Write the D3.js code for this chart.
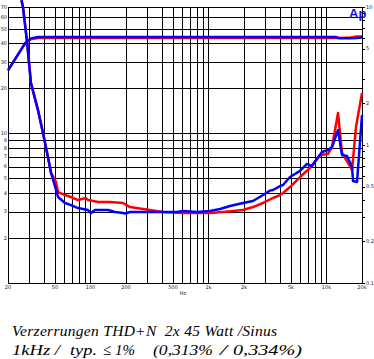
<!DOCTYPE html>
<html>
<head>
<meta charset="utf-8">
<script src="https://cdn.jsdelivr.net/npm/d3@7"></script>
<style>
  body { margin: 0; background: #fff; }
  svg { display: block; }
  .tick-label { font-family: "DejaVu Sans", sans-serif; font-size: 5px; fill: #222; }
  .caption { font-family: "Liberation Serif", serif; font-style: italic; font-size: 15.5px; fill: #000; white-space: pre; }
</style>
</head>
<body>
<div id="chart"></div>
<script>
// THD+N curves (right axis, %)
const thdFreqRed = [26, 26.8, 29, 31.3, 35.9, 39.6, 43.6, 46.3, 51, 53.1, 60.8, 68.4, 78.4, 91.6, 95.2, 116, 146, 189, 216, 279, 412, 608, 697, 1030, 1328, 1962, 2382, 2898, 3522, 4036, 4281, 4909, 5968, 7248, 8811, 10300, 11140, 12530, 13540, 15220, 16460, 17790, 20000];
const thdRed = [11.2, 10, 5.58, 2.81, 1.79, 1.22, 0.818, 0.627, 0.54, 0.456, 0.434, 0.42, 0.399, 0.413, 0.399, 0.386, 0.386, 0.38, 0.355, 0.344, 0.327, 0.321, 0.321, 0.321, 0.327, 0.338, 0.355, 0.38, 0.413, 0.434, 0.449, 0.496, 0.586, 0.681, 0.846, 0.861, 0.967, 1.706, 0.875, 0.741, 0.659, 1.35, 2.38];

const thdFreqBlue = [26, 26.8, 29, 31.3, 35.9, 39.6, 43.6, 46.3, 50, 53.1, 60.8, 68.4, 78.4, 95.2, 101, 109, 141, 161, 189, 196, 216, 279, 541, 608, 799, 1030, 1253, 1522, 1962, 2382, 2898, 3320, 3522, 4036, 4281, 4909, 5968, 6836, 7537, 9162, 10300, 11140, 12530, 13540, 14930, 16460, 16790, 18150, 20000];
const thdBlue = [11.2, 10, 5.58, 2.81, 1.79, 1.22, 0.818, 0.627, 0.504, 0.42, 0.38, 0.367, 0.349, 0.338, 0.321, 0.338, 0.338, 0.327, 0.321, 0.318, 0.327, 0.327, 0.327, 0.333, 0.327, 0.333, 0.344, 0.361, 0.38, 0.393, 0.434, 0.467, 0.472, 0.504, 0.513, 0.586, 0.65, 0.729, 0.704, 0.89, 0.92, 0.967, 1.284, 0.846, 0.832, 0.693, 0.548, 0.54, 1.65];

// output power curves (left axis, W)
const powFreqRed = [20, 27.9, 29, 31.3, 35.9, 100, 1000, 10000, 12500, 16000, 18000, 20000];
const powRed = [26.4, 40, 41.2, 42.6, 43.4, 43.4, 43.4, 43.4, 43.4, 43.8, 44.5, 44.5];
const powFreqBlue = [20, 27.9, 29, 31.3, 35.9, 100, 1000, 10000, 12000, 13000, 16000, 18000, 20000];
const powBlue = [26.4, 40, 41.2, 43.2, 44.1, 44.1, 44.1, 44.1, 44.1, 43.2, 43.2, 43.5, 43.7];

// axes / grid
const xGrid = [30, 40, 50, 60, 70, 80, 90, 100, 200, 300, 400, 500, 600, 700, 800, 900, 1000, 2000, 3000, 4000, 5000, 6000, 7000, 8000, 9000, 10000];
const xTicks = [20, 50, 100, 200, 500, 1000, 2000, 5000, 10000, 20000];
const xTickLabels = ["20", "50", "100", "200", "500", "1k", "2k", "5k", "10k", "20k"];
const leftGrid = [2, 3, 4, 5, 6, 7, 8, 9, 10, 20, 30, 40, 50, 60];
const leftTicks = [2, 3, 4, 5, 6, 7, 8, 9, 10, 20, 30, 40, 50, 60, 70];
const rightTicks = [0.2, 0.3, 0.4, 0.5, 0.6, 0.7, 0.8, 0.9, 1, 2, 3, 4, 5, 6, 7, 8, 9];
const rightLabels = [0.1, 0.2, 0.5, 1, 2, 5, 10];
const captionLine1 = "Verzerrungen THD+N  2x 45 Watt /Sinus";
const captionLine2 = ["1kHz /", "typ.", "\u2264 1%", "(0,313%", "/", "0,334%)"];

const W = 374, H = 359;
const pLeft = 8, pRight = 362, pTop = 7, pBottom = 283;

const svg = d3.select("#chart").append("svg")
    .attr("width", W)
    .attr("height", H);

const x = d3.scaleLog().domain([20, 20000]).range([pLeft, pRight]);
const yL = d3.scaleLog().domain([1, 70]).range([pBottom, pTop]);
const yR = d3.scaleLog().domain([0.1, 10]).range([pBottom, pTop]);

//----------------------------GRID----------------------------//
const grid = svg.append("g")
    .attr("stroke", "#000")
    .attr("stroke-width", 1)
    .attr("shape-rendering", "crispEdges");

grid.selectAll(".vx").data(xGrid).enter().append("line")
    .attr("x1", d => Math.round(x(d)) + 0.5).attr("x2", d => Math.round(x(d)) + 0.5)
    .attr("y1", pTop).attr("y2", pBottom);

grid.selectAll(".hy").data(leftGrid).enter().append("line")
    .attr("x1", pLeft).attr("x2", pRight)
    .attr("y1", d => Math.round(yL(d)) + 0.5).attr("y2", d => Math.round(yL(d)) + 0.5);

grid.append("rect")
    .attr("x", pLeft + 0.5).attr("y", pTop + 0.5)
    .attr("width", pRight - pLeft).attr("height", pBottom - pTop)
    .attr("fill", "none");

// right axis small ticks
grid.selectAll(".rt").data(rightTicks.concat(rightLabels)).enter().append("line")
    .attr("x1", pRight).attr("x2", pRight + 3)
    .attr("y1", d => Math.round(yR(d)) + 0.5).attr("y2", d => Math.round(yR(d)) + 0.5);

//----------------------------LABELS----------------------------//
svg.selectAll(".ll").data(leftTicks).enter().append("text")
    .attr("class", "tick-label")
    .attr("x", pLeft - 1)
    .attr("y", d => yL(d) + 1.8)
    .attr("text-anchor", "end")
    .text(d => d);

svg.selectAll(".rl").data(rightLabels).enter().append("text")
    .attr("class", "tick-label")
    .attr("x", pRight + 4)
    .attr("y", d => yR(d) + 1.8)
    .text(d => d);

svg.selectAll(".xl").data(xTicks).enter().append("text")
    .attr("class", "tick-label")
    .attr("x", d => x(d))
    .attr("y", pBottom + 6)
    .attr("text-anchor", "middle")
    .text((d, i) => xTickLabels[i]);

svg.append("text")
    .attr("class", "tick-label")
    .attr("x", (pLeft + pRight) / 2 - 2)
    .attr("y", pBottom + 12)
    .attr("text-anchor", "middle")
    .text("Hz");

svg.append("text")
    .attr("x", 349).attr("y", 18)
    .attr("font-family", "Liberation Sans, Arial, sans-serif")
    .attr("font-weight", "bold")
    .attr("font-size", 13)
    .attr("fill", "#1010e0")
    .text("Ap");

//----------------------------LINES-----------------------------//
const lineL = d3.line().x(d => x(d[0])).y(d => yL(d[1]));
const lineR = d3.line().x(d => x(d[0])).y(d => yR(d[1]));

const zip = (a, b) => a.map((f, i) => [f, b[i]]);

const curves = [
  { d: lineL(zip(powFreqRed, powRed)), color: "#ff0000" },
  { d: lineR(zip(thdFreqRed, thdRed)), color: "#ff0000" },
  { d: lineL(zip(powFreqBlue, powBlue)), color: "#0000ff" },
  { d: lineR(zip(thdFreqBlue, thdBlue)), color: "#0000ff" }
];

svg.selectAll(".curve").data(curves).enter().append("path")
    .attr("d", d => d.d)
    .attr("fill", "none")
    .attr("stroke", d => d.color)
    .attr("stroke-width", 2.5)
    .attr("stroke-linejoin", "round");

//----------------------------CAPTION---------------------------//
svg.append("text")
    .attr("class", "caption")
    .attr("x", 12)
    .attr("y", 336)
    .attr("textLength", 265)
    .attr("lengthAdjust", "spacing")
    .text(captionLine1);

// second line placed piece by piece, the original font runs wider
const partX = [12, 70, 103, 153, 220, 233];
const partW = [48, 27, 32, 60, 7, 69];
svg.selectAll(".cap2").data(captionLine2).enter().append("text")
    .attr("class", "caption")
    .attr("x", (d, i) => partX[i])
    .attr("y", 355)
    .attr("textLength", (d, i) => partW[i])
    .attr("lengthAdjust", "spacingAndGlyphs")
    .text(d => d);
</script>
</body>
</html>
